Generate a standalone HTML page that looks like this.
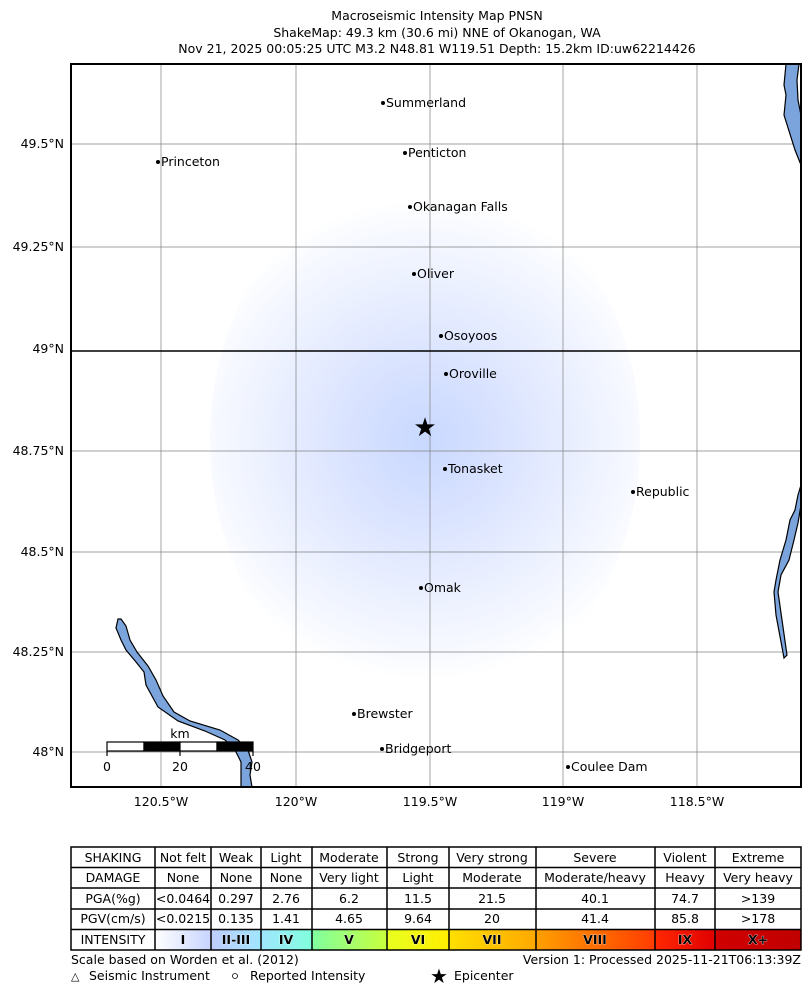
<!DOCTYPE html>
<html><head><meta charset="utf-8"><style>
html,body{margin:0;padding:0;background:#fff;}
svg{display:block;font-family:"DejaVu Sans","Liberation Sans",sans-serif;}
</style></head><body>
<svg width="810" height="1001" viewBox="0 0 810 1001" xmlns="http://www.w3.org/2000/svg">
<defs>
<radialGradient id="shk" cx="425" cy="440" r="240" gradientUnits="userSpaceOnUse">
<stop offset="0" stop-color="#c8d8ff"/>
<stop offset="0.3" stop-color="#d8e2ff"/>
<stop offset="0.65" stop-color="#ebf0ff"/>
<stop offset="0.9" stop-color="#f8faff"/>
<stop offset="1" stop-color="#ffffff"/>
</radialGradient>
<linearGradient id="g1"><stop offset="0" stop-color="#fff"/><stop offset="1" stop-color="#c8d4ff"/></linearGradient>
<linearGradient id="g2"><stop offset="0" stop-color="#bfccff"/><stop offset="1" stop-color="#a0e6ff"/></linearGradient>
<linearGradient id="g3"><stop offset="0" stop-color="#a0e6ff"/><stop offset="1" stop-color="#80ffdc"/></linearGradient>
<linearGradient id="g4"><stop offset="0" stop-color="#80ffa0"/><stop offset="1" stop-color="#c8ff3c"/></linearGradient>
<linearGradient id="g5"><stop offset="0" stop-color="#e8ff20"/><stop offset="1" stop-color="#ffee00"/></linearGradient>
<linearGradient id="g6"><stop offset="0" stop-color="#ffe000"/><stop offset="1" stop-color="#ffa800"/></linearGradient>
<linearGradient id="g7"><stop offset="0" stop-color="#ffa000"/><stop offset="1" stop-color="#ff3c00"/></linearGradient>
<linearGradient id="g8"><stop offset="0" stop-color="#ff2800"/><stop offset="1" stop-color="#e00000"/></linearGradient>
<linearGradient id="g9"><stop offset="0" stop-color="#d00000"/><stop offset="1" stop-color="#c00000"/></linearGradient>
</defs>
<g font-size="12.5" text-anchor="middle" fill="#000">
<text x="437" y="20">Macroseismic Intensity Map PNSN</text>
<text x="437" y="37">ShakeMap: 49.3 km (30.6 mi) NNE of Okanogan, WA</text>
<text x="437" y="53">Nov 21, 2025 00:05:25 UTC M3.2 N48.81 W119.51 Depth: 15.2km ID:uw62214426</text>
</g>
<rect x="71" y="64" width="730" height="723" fill="#fff"/>
<ellipse cx="425" cy="440" rx="215" ry="270" fill="url(#shk)"/>
<g stroke="#808080" stroke-width="0.7">
<line x1="161" y1="64" x2="161" y2="787"/><line x1="296" y1="64" x2="296" y2="787"/>
<line x1="430" y1="64" x2="430" y2="787"/><line x1="563" y1="64" x2="563" y2="787"/>
<line x1="697" y1="64" x2="697" y2="787"/>
<line x1="71" y1="144" x2="801" y2="144"/><line x1="71" y1="247" x2="801" y2="247"/>
<line x1="71" y1="451" x2="801" y2="451"/><line x1="71" y1="552" x2="801" y2="552"/>
<line x1="71" y1="652" x2="801" y2="652"/><line x1="71" y1="752" x2="801" y2="752"/>
</g>
<line x1="71" y1="351" x2="801" y2="351" stroke="#000" stroke-width="1.5"/>
<g fill="#7ba3dc" stroke="#000" stroke-width="1.2">
<polygon points="786,64 799,64 797,80 798,100 801,115 801,165 795,150 784,115 786,95 784,85"/>
<polygon points="801,485 798,495 795,510 790,520 786,540 780,560 776,580 774,592 776,615 784,658 787,655 782,620 778,592 781,575 789,560 794,540 798,523 801,505"/>
<polygon points="118,619 116,628 121,640 126,650 136,662 144,672 146,685 158,707 178,721 205,731 225,740 235,750 241,762 241,787 252,787 250,775 252,762 248,750 238,740 220,730 190,721 174,712 163,696 156,680 148,666 137,652 130,640 126,626 121,619"/>
</g>
<g stroke="#000" stroke-width="1.2"><rect x="107" y="742" width="37" height="9" fill="#fff"/><rect x="144" y="742" width="36" height="9" fill="#000"/><rect x="180" y="742" width="37" height="9" fill="#fff"/><rect x="217" y="742" width="36" height="9" fill="#000"/>
<line x1="107" y1="751" x2="107" y2="756"/><line x1="180" y1="751" x2="180" y2="756"/><line x1="253" y1="751" x2="253" y2="756"/></g>
<g font-size="12.5" text-anchor="middle"><text x="180" y="738">km</text><text x="107" y="771">0</text><text x="180" y="771">20</text><text x="253" y="771">40</text></g>
<g font-size="12.5" fill="#000">
<circle cx="383" cy="103" r="2"/><text x="386" y="107">Summerland</text>
<circle cx="158" cy="162" r="2"/><text x="161" y="166">Princeton</text>
<circle cx="405" cy="153" r="2"/><text x="408" y="157">Penticton</text>
<circle cx="410" cy="207" r="2"/><text x="413" y="211">Okanagan Falls</text>
<circle cx="414" cy="274" r="2"/><text x="417" y="278">Oliver</text>
<circle cx="441" cy="336" r="2"/><text x="444" y="340">Osoyoos</text>
<circle cx="446" cy="374" r="2"/><text x="449" y="378">Oroville</text>
<circle cx="445" cy="469" r="2"/><text x="448" y="473">Tonasket</text>
<circle cx="633" cy="492" r="2"/><text x="636" y="496">Republic</text>
<circle cx="421" cy="588" r="2"/><text x="424" y="592">Omak</text>
<circle cx="354" cy="714" r="2"/><text x="357" y="718">Brewster</text>
<circle cx="382" cy="749" r="2"/><text x="385" y="753">Bridgeport</text>
<circle cx="568" cy="767" r="2"/><text x="571" y="771">Coulee Dam</text>
</g>
<text x="425" y="436" font-size="26" text-anchor="middle">★</text>
<rect x="71" y="64" width="730" height="723" fill="none" stroke="#000" stroke-width="2"/>
<g font-size="12.5" text-anchor="end">
<text x="64" y="148">49.5°N</text><text x="64" y="251">49.25°N</text><text x="64" y="353">49°N</text>
<text x="64" y="455">48.75°N</text><text x="64" y="556">48.5°N</text><text x="64" y="656">48.25°N</text><text x="64" y="756">48°N</text>
</g>
<g font-size="12.5" text-anchor="middle">
<text x="161" y="806">120.5°W</text><text x="296" y="806">120°W</text><text x="430" y="806">119.5°W</text><text x="563" y="806">119°W</text><text x="697" y="806">118.5°W</text>
</g>
<g>
<rect x="155" y="930" width="56" height="20" fill="url(#g1)"/><rect x="211" y="930" width="50" height="20" fill="url(#g2)"/>
<rect x="261" y="930" width="51" height="20" fill="url(#g3)"/><rect x="312" y="930" width="75" height="20" fill="url(#g4)"/>
<rect x="387" y="930" width="62" height="20" fill="url(#g5)"/><rect x="449" y="930" width="87" height="20" fill="url(#g6)"/>
<rect x="536" y="930" width="119" height="20" fill="url(#g7)"/><rect x="655" y="930" width="60" height="20" fill="url(#g8)"/>
<rect x="715" y="930" width="86" height="20" fill="url(#g9)"/>
</g>
<g stroke="#000" stroke-width="1.5" fill="none">
<rect x="71" y="847" width="730" height="103"/>
<line x1="71" y1="867.5" x2="801" y2="867.5"/><line x1="71" y1="888" x2="801" y2="888"/><line x1="71" y1="909" x2="801" y2="909"/><line x1="71" y1="929.5" x2="801" y2="929.5"/>
<line x1="155" y1="847" x2="155" y2="950"/><line x1="211" y1="847" x2="211" y2="950"/><line x1="261" y1="847" x2="261" y2="950"/><line x1="312" y1="847" x2="312" y2="950"/><line x1="387" y1="847" x2="387" y2="950"/><line x1="449" y1="847" x2="449" y2="950"/><line x1="536" y1="847" x2="536" y2="950"/><line x1="655" y1="847" x2="655" y2="950"/><line x1="715" y1="847" x2="715" y2="950"/>
</g>
<g font-size="12.5" text-anchor="middle">
<text x="113" y="862">SHAKING</text><text x="183" y="862">Not felt</text><text x="236" y="862">Weak</text><text x="286" y="862">Light</text><text x="349" y="862">Moderate</text><text x="418" y="862">Strong</text><text x="492" y="862">Very strong</text><text x="595" y="862">Severe</text><text x="685" y="862">Violent</text><text x="758" y="862">Extreme</text>
<text x="113" y="882">DAMAGE</text><text x="183" y="882">None</text><text x="236" y="882">None</text><text x="286" y="882">None</text><text x="349" y="882">Very light</text><text x="418" y="882">Light</text><text x="492" y="882">Moderate</text><text x="595" y="882">Moderate/heavy</text><text x="685" y="882">Heavy</text><text x="758" y="882">Very heavy</text>
<text x="113" y="903">PGA(%g)</text><text x="183" y="903">&lt;0.0464</text><text x="236" y="903">0.297</text><text x="286" y="903">2.76</text><text x="349" y="903">6.2</text><text x="418" y="903">11.5</text><text x="492" y="903">21.5</text><text x="595" y="903">40.1</text><text x="685" y="903">74.7</text><text x="758" y="903">&gt;139</text>
<text x="113" y="923">PGV(cm/s)</text><text x="183" y="923">&lt;0.0215</text><text x="236" y="923">0.135</text><text x="286" y="923">1.41</text><text x="349" y="923">4.65</text><text x="418" y="923">9.64</text><text x="492" y="923">20</text><text x="595" y="923">41.4</text><text x="685" y="923">85.8</text><text x="758" y="923">&gt;178</text>
<text x="113" y="944">INTENSITY</text>
</g>
<g font-size="12.5" font-weight="bold" text-anchor="middle" stroke="#fff" stroke-width="0.6" fill="#000" paint-order="stroke">
<text x="183" y="944">I</text><text x="236" y="944">II-III</text><text x="286" y="944">IV</text><text x="349" y="944">V</text><text x="418" y="944">VI</text><text x="492" y="944">VII</text><text x="595" y="944">VIII</text><text x="685" y="944">IX</text><text x="758" y="944">X+</text>
</g>
<g font-size="12.5">
<text x="71" y="964">Scale based on Worden et al. (2012)</text>
<text x="801" y="964" text-anchor="end">Version 1: Processed 2025-11-21T06:13:39Z</text>
<text x="71" y="980" font-size="11">△</text><text x="89" y="980">Seismic Instrument</text>
<circle cx="235" cy="976" r="2.5" fill="none" stroke="#000" stroke-width="0.8"/><text x="250" y="980">Reported Intensity</text>
<text x="430" y="983" font-size="20">★</text><text x="454" y="980">Epicenter</text>
</g>
</svg>
</body></html>
